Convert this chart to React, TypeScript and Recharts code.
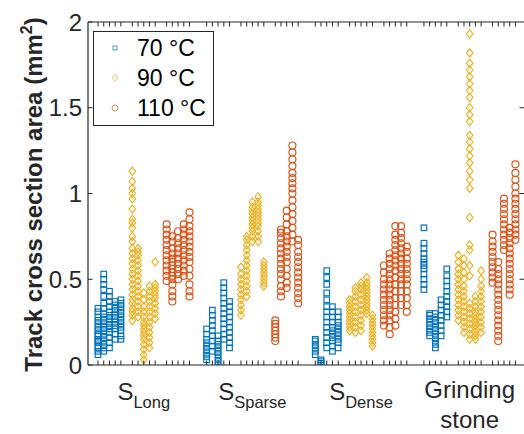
import React from 'react';
import { ScatterChart, Scatter, XAxis, YAxis, Legend, ReferenceLine } from 'recharts';

const FONT = '"Liberation Sans", Arial, Helvetica, sans-serif';
const AXIS_COLOR = '#262626';

const CHART_W = 524;
const CHART_H = 434;
const MARGIN_TOP = 22;
const X_AXIS_H = 69;
const Y_AXIS_W = 88;
const PLOT_H = CHART_H - MARGIN_TOP - X_AXIS_H;
const PLOT_W = CHART_W - Y_AXIS_W;

const temperatures = ['70 °C', '90 °C', '110 °C'];
const colors = ['#0072BD', '#EDB120', '#D95319'];

const categoryMain = ['S', 'S', 'S', 'Grinding'];
const categorySub = ['Long', 'Sparse', 'Dense', ''];
const categoryLine2 = ['', '', '', 'stone'];

const yTicks = [0, 0.5, 1, 1.5, 2];

// Each temperature group holds five samples (columns) of track cross section areas (mm²)
const sLong70 = [
  [0.06, 0.08, 0.1, 0.11, 0.13, 0.14, 0.15, 0.17, 0.18, 0.2, 0.22, 0.24, 0.26, 0.28, 0.31, 0.33],
  [0.08, 0.1, 0.12, 0.14, 0.16, 0.18, 0.2, 0.22, 0.24, 0.26, 0.28, 0.3, 0.33, 0.36, 0.4, 0.44, 0.47, 0.5, 0.53],
  [0.1, 0.13, 0.16, 0.19, 0.21, 0.23, 0.25, 0.27, 0.29, 0.31, 0.34, 0.37, 0.4, 0.43],
  [0.15, 0.18, 0.21, 0.23, 0.25, 0.27, 0.29, 0.31, 0.33, 0.35, 0.37],
  [0.15, 0.17, 0.2, 0.22, 0.24, 0.26, 0.28, 0.3, 0.32, 0.34, 0.36, 0.38],
];
const sLong90 = [
  [0.26, 0.29, 0.31, 0.33, 0.36, 0.38, 0.41, 0.44, 0.47, 0.5, 0.53, 0.56, 0.59, 0.62, 0.65, 0.68, 0.72, 0.75, 0.8, 0.83, 0.85, 0.91, 0.97, 1.0, 1.03, 1.07, 1.13],
  [0.28, 0.31, 0.34, 0.37, 0.4, 0.43, 0.46, 0.49, 0.52, 0.55, 0.58, 0.61, 0.64, 0.66, 0.68],
  [0.03, 0.06, 0.09, 0.12, 0.15, 0.17, 0.19, 0.21, 0.23, 0.25, 0.28, 0.31, 0.34, 0.38, 0.42],
  [0.1, 0.13, 0.16, 0.19, 0.22, 0.25, 0.28, 0.31, 0.34, 0.37, 0.4, 0.43, 0.46],
  [0.27, 0.3, 0.33, 0.36, 0.39, 0.41, 0.43, 0.45, 0.47, 0.6],
];
const sLong110 = [
  [0.49, 0.52, 0.55, 0.58, 0.61, 0.64, 0.67, 0.7, 0.73, 0.76, 0.79, 0.82],
  [0.37, 0.4, 0.43, 0.47, 0.5, 0.52, 0.54, 0.56, 0.58, 0.6, 0.62, 0.65, 0.68, 0.72, 0.75],
  [0.5, 0.53, 0.56, 0.59, 0.62, 0.65, 0.68, 0.71, 0.74, 0.78],
  [0.52, 0.55, 0.58, 0.61, 0.64, 0.67, 0.7, 0.73, 0.76, 0.79, 0.82],
  [0.4, 0.43, 0.47, 0.52, 0.56, 0.6, 0.63, 0.66, 0.69, 0.72, 0.75, 0.78, 0.81, 0.85, 0.89],
];

const sSparse70 = [
  [0.03, 0.05, 0.07, 0.09, 0.11, 0.13, 0.15, 0.18, 0.21],
  [0.08, 0.11, 0.14, 0.17, 0.2, 0.23, 0.26, 0.29, 0.32],
  [0.0, 0.02, 0.04, 0.06, 0.08, 0.1, 0.12, 0.14, 0.17],
  [0.15, 0.18, 0.21, 0.24, 0.27, 0.3, 0.33, 0.36, 0.39, 0.42, 0.45, 0.48],
  [0.1, 0.13, 0.16, 0.19, 0.22, 0.25, 0.28, 0.31, 0.34, 0.37],
];
const sSparse90 = [
  [0.29, 0.32, 0.35, 0.38, 0.41, 0.44, 0.47, 0.5, 0.53, 0.57],
  [0.4, 0.43, 0.46, 0.49, 0.52, 0.55, 0.58, 0.61, 0.64, 0.67, 0.7, 0.73, 0.75],
  [0.72, 0.75, 0.78, 0.8, 0.82, 0.84, 0.86, 0.88, 0.9, 0.92, 0.95],
  [0.72, 0.75, 0.78, 0.81, 0.83, 0.85, 0.87, 0.89, 0.91, 0.93, 0.95, 0.98],
  [0.46, 0.48, 0.5, 0.52, 0.54, 0.56, 0.58, 0.6],
];
const sSparse110 = [
  [0.14, 0.16, 0.18, 0.2, 0.22, 0.24, 0.26],
  [0.4, 0.43, 0.46, 0.5, 0.53, 0.56, 0.59, 0.62, 0.65, 0.68, 0.71, 0.74, 0.77, 0.79],
  [0.45, 0.48, 0.52, 0.56, 0.6, 0.63, 0.66, 0.69, 0.72, 0.75, 0.78, 0.82, 0.86, 0.9],
  [0.72, 0.76, 0.8, 0.84, 0.88, 0.92, 0.96, 1.0, 1.03, 1.06, 1.09, 1.12, 1.16, 1.2, 1.24, 1.28],
  [0.36, 0.39, 0.42, 0.45, 0.48, 0.51, 0.54, 0.57, 0.6, 0.63, 0.66, 0.7, 0.73],
];

const sDense70 = [
  [0.06, 0.08, 0.1, 0.12, 0.14, 0.15],
  [0.0, 0.01, 0.02, 0.03],
  [0.1, 0.13, 0.16, 0.19, 0.22, 0.25, 0.28, 0.31, 0.34, 0.38, 0.42, 0.47, 0.51, 0.55],
  [0.08, 0.11, 0.14, 0.16, 0.18, 0.2, 0.22, 0.25, 0.28, 0.31, 0.34],
  [0.1, 0.13, 0.15, 0.17, 0.19, 0.21, 0.23, 0.25, 0.28, 0.31],
];
const sDense90 = [
  [0.2, 0.22, 0.24, 0.26, 0.28, 0.3, 0.32, 0.34, 0.36, 0.38],
  [0.19, 0.22, 0.25, 0.28, 0.31, 0.34, 0.37, 0.4, 0.43, 0.45],
  [0.2, 0.23, 0.26, 0.29, 0.32, 0.35, 0.38, 0.41, 0.44, 0.46, 0.48],
  [0.3, 0.32, 0.34, 0.36, 0.38, 0.4, 0.42, 0.44, 0.46, 0.48, 0.51],
  [0.11, 0.13, 0.15, 0.17, 0.19, 0.21, 0.23, 0.25, 0.27, 0.29],
];
const sDense110 = [
  [0.23, 0.26, 0.29, 0.32, 0.35, 0.38, 0.41, 0.44, 0.47, 0.5, 0.54, 0.58],
  [0.18, 0.22, 0.26, 0.29, 0.32, 0.35, 0.38, 0.41, 0.44, 0.47, 0.5, 0.53, 0.56, 0.59, 0.62, 0.65],
  [0.23, 0.27, 0.31, 0.35, 0.39, 0.43, 0.47, 0.51, 0.55, 0.58, 0.61, 0.64, 0.67, 0.7, 0.73, 0.76, 0.81],
  [0.35, 0.39, 0.43, 0.47, 0.5, 0.53, 0.56, 0.59, 0.62, 0.65, 0.68, 0.71, 0.74, 0.77, 0.81],
  [0.31, 0.35, 0.39, 0.43, 0.47, 0.5, 0.53, 0.56, 0.59, 0.62, 0.66, 0.69],
];

const grinding70 = [
  [0.44, 0.47, 0.5, 0.53, 0.56, 0.58, 0.6, 0.62, 0.65, 0.68, 0.71, 0.8],
  [0.17, 0.19, 0.21, 0.23, 0.25, 0.27, 0.29, 0.3],
  [0.1, 0.12, 0.14, 0.16, 0.18, 0.2, 0.22, 0.24, 0.26, 0.28, 0.3],
  [0.17, 0.2, 0.23, 0.26, 0.29, 0.32, 0.35, 0.38],
  [0.28, 0.31, 0.34, 0.37, 0.4, 0.43, 0.46, 0.49, 0.52, 0.56],
];
const grinding90 = [
  [0.26, 0.29, 0.32, 0.35, 0.38, 0.41, 0.44, 0.47, 0.5, 0.53, 0.56, 0.6, 0.64],
  [0.19, 0.22, 0.25, 0.28, 0.31, 0.34, 0.37, 0.4, 0.43, 0.46, 0.5, 0.54, 0.58, 0.62],
  [0.15, 0.18, 0.21, 0.24, 0.27, 0.3, 0.33, 0.36, 0.52, 0.58, 0.67, 0.7, 0.86, 1.03, 1.08, 1.13, 1.18, 1.22, 1.26, 1.3, 1.34, 1.42, 1.46, 1.5, 1.56, 1.6, 1.64, 1.68, 1.72, 1.76, 1.82, 1.93],
  [0.15, 0.17, 0.19, 0.21, 0.23, 0.25, 0.27, 0.29, 0.31, 0.34, 0.37, 0.4],
  [0.19, 0.22, 0.25, 0.28, 0.31, 0.34, 0.37, 0.4, 0.43, 0.46, 0.5, 0.55],
];
const grinding110 = [
  [0.48, 0.51, 0.54, 0.57, 0.6, 0.63, 0.66, 0.69, 0.72, 0.76],
  [0.14, 0.17, 0.2, 0.23, 0.26, 0.29, 0.32, 0.35, 0.38, 0.41, 0.44, 0.47, 0.5, 0.53, 0.56, 0.6],
  [0.67, 0.7, 0.73, 0.76, 0.79, 0.82, 0.85, 0.88, 0.91, 0.94, 0.97],
  [0.41, 0.44, 0.47, 0.5, 0.53, 0.56, 0.59, 0.62, 0.65, 0.68, 0.71, 0.74, 0.77, 0.8],
  [0.73, 0.76, 0.79, 0.82, 0.85, 0.88, 0.91, 0.94, 0.97, 1.0, 1.04, 1.08, 1.12, 1.17],
];

// Layout of sample slots along x: category stride 19, temperature stride 6, sample stride 1
const FIRST_X = 2;
const CAT_STRIDE = 19;
const TEMP_STRIDE = 6;
const SAMPLES = 5;
const X_DOMAIN: [number, number] = [0.25, 76.5];

const slotX = (c: number, t: number, s: number) => FIRST_X + c * CAT_STRIDE + t * TEMP_STRIDE + s;

const xTicks: number[] = [];
for (let c = 0; c < 4; c++) for (let t = 0; t < 3; t++) for (let s = 0; s < SAMPLES; s++) xTicks.push(slotX(c, t, s));
const categoryCenters = [0, 1, 2, 3].map((c) => slotX(c, 1, 2));

const seriesGroups = [
  [sLong70, sSparse70, sDense70, grinding70],
  [sLong90, sSparse90, sDense90, grinding90],
  [sLong110, sSparse110, sDense110, grinding110],
];

const buildSeries = (t: number) => {
  const out: { x: number; y: number }[] = [];
  seriesGroups[t].forEach((cols, c) =>
    cols.forEach((vals, s) => vals.forEach((v) => out.push({ x: slotX(c, t, s), y: v })))
  );
  return out;
};

const seriesData = [buildSeries(0), buildSeries(1), buildSeries(2)];

const SW = 1.15;
const SquareMarker = (props: any) => {
  const { cx, cy } = props;
  if (cx == null || cy == null) return <g />;
  return <rect x={cx - 2.8} y={cy - 2.8} width={5.6} height={5.6} fill="none" stroke={colors[0]} strokeWidth={SW} />;
};
const DiamondMarker = (props: any) => {
  const { cx, cy } = props;
  if (cx == null || cy == null) return <g />;
  const r = 4.1;
  return (
    <path d={`M${cx},${cy - r}L${cx + r * 0.8},${cy}L${cx},${cy + r}L${cx - r * 0.8},${cy}Z`} fill="none" stroke={colors[1]} strokeWidth={SW} />
  );
};
const CircleMarker = (props: any) => {
  const { cx, cy } = props;
  if (cx == null || cy == null) return <g />;
  return <circle cx={cx} cy={cy} r={3.5} fill="none" stroke={colors[2]} strokeWidth={SW} />;
};
const markers = [SquareMarker, DiamondMarker, CircleMarker];

const TICK_LEN = 4.5;

const BottomTick = (props: any) => {
  const { x, y, payload } = props;
  const ci = categoryCenters.indexOf(payload.value);
  const topY = y - PLOT_H;
  return (
    <g>
      <line x1={x} x2={x} y1={y} y2={y - TICK_LEN} stroke={AXIS_COLOR} strokeWidth={1} />
      <line x1={x} x2={x} y1={topY} y2={topY + TICK_LEN} stroke={AXIS_COLOR} strokeWidth={1} />
      {ci >= 0 && (
        <text x={x} y={y + (categoryLine2[ci] ? 33 : 35)} textAnchor="middle" fontFamily={FONT} fontSize={24} fill={AXIS_COLOR}>
          <tspan>{categoryMain[ci]}</tspan>
          {categorySub[ci] && (
            <tspan fontSize={16.5} dy={8}>
              {categorySub[ci]}
            </tspan>
          )}
        </text>
      )}
      {ci >= 0 && categoryLine2[ci] && (
        <text x={x} y={y + 63} textAnchor="middle" fontFamily={FONT} fontSize={24} fill={AXIS_COLOR}>
          {categoryLine2[ci]}
        </text>
      )}
    </g>
  );
};

const LeftTick = (props: any) => {
  const { x, y, payload } = props;
  const rightX = x + PLOT_W;
  return (
    <g>
      <line x1={x} x2={x + TICK_LEN} y1={y} y2={y} stroke={AXIS_COLOR} strokeWidth={1} />
      {payload.value !== 0 && payload.value !== 2 && (
        <line x1={rightX} x2={rightX - TICK_LEN} y1={y} y2={y} stroke={AXIS_COLOR} strokeWidth={1} />
      )}
      <text x={x - 6} y={y} dy="0.36em" textAnchor="end" fontFamily={FONT} fontSize={24} fill={AXIS_COLOR}>
        {String(payload.value)}
      </text>
    </g>
  );
};

const YLabel = (props: any) => {
  const vb = props.viewBox || { x: 0, y: MARGIN_TOP, width: Y_AXIS_W, height: PLOT_H };
  const cx = vb.x + 42;
  const cy = vb.y + vb.height / 2 + 1;
  return (
    <text
      x={cx}
      y={cy}
      transform={`rotate(-90, ${cx}, ${cy})`}
      textAnchor="middle"
      fontFamily={FONT}
      fontSize={24}
      fontWeight="bold"
      fill={AXIS_COLOR}
    >
      <tspan>Track cross section area (mm</tspan>
      <tspan fontSize={16} dy={-10}>2</tspan>
      <tspan dy={10}>)</tspan>
    </text>
  );
};

const LegendBox = () => {
  const rows = [17, 47, 77];
  return (
    <svg width={122} height={96} style={{ display: 'block' }}>
      <rect x={0.5} y={0.5} width={120} height={94} fill="#fff" stroke={AXIS_COLOR} strokeWidth={1} />
      {temperatures.map((label, i) => {
        const cy = rows[i];
        const mx = 22;
        let marker;
        if (i === 0) marker = <rect x={mx - 2} y={cy - 2} width={4} height={4} fill="none" stroke={colors[0]} strokeWidth={0.7} />;
        else if (i === 1)
          marker = <path d={`M${mx},${cy - 3.5}L${mx + 2.8},${cy}L${mx},${cy + 3.5}L${mx - 2.8},${cy}Z`} fill="none" stroke={colors[1]} strokeWidth={0.7} />;
        else marker = <circle cx={mx} cy={cy} r={3} fill="none" stroke={colors[2]} strokeWidth={0.7} />;
        return (
          <g key={label}>
            {marker}
            <text x={44} y={cy} dy="0.36em" fontFamily={FONT} fontSize={23} fill="#000">
              {label}
            </text>
          </g>
        );
      })}
    </svg>
  );
};

export default function App() {
  return (
    <div style={{ position: 'absolute', left: 0, top: 0, width: CHART_W, height: CHART_H, background: '#fff', overflow: 'hidden' }}>
      <ScatterChart width={CHART_W} height={CHART_H} margin={{ top: MARGIN_TOP, right: 0, bottom: 0, left: 0 }}>
        <XAxis
          xAxisId="b"
          type="number"
          dataKey="x"
          orientation="bottom"
          domain={X_DOMAIN}
          allowDataOverflow
          ticks={xTicks}
          interval={0}
          height={X_AXIS_H}
          tickSize={0}
          tickMargin={0}
          tickLine={false}
          axisLine={{ stroke: AXIS_COLOR, strokeWidth: 1.2 }}
          tick={BottomTick}
        />
        <YAxis
          yAxisId="l"
          type="number"
          dataKey="y"
          domain={[0, 2]}
          allowDataOverflow
          ticks={yTicks}
          interval={0}
          width={Y_AXIS_W}
          tickSize={0}
          tickMargin={0}
          tickLine={false}
          axisLine={{ stroke: AXIS_COLOR, strokeWidth: 1.2 }}
          tick={LeftTick}
          label={{ content: YLabel }}
        />
        <ReferenceLine xAxisId="b" yAxisId="l" y={2} stroke={AXIS_COLOR} strokeWidth={1.2} />
        {temperatures.map((name, t) => (
          <Scatter
            key={name}
            name={name}
            data={seriesData[t]}
            xAxisId="b"
            yAxisId="l"
            fill={colors[t]}
            shape={markers[t]}
            isAnimationActive={false}
          />
        ))}
        <Legend
          layout="vertical"
          align="center"
          verticalAlign="middle"
          content={LegendBox}
          wrapperStyle={{ left: 93, top: 31, width: 122, height: 96 }}
        />
      </ScatterChart>
    </div>
  );
}
